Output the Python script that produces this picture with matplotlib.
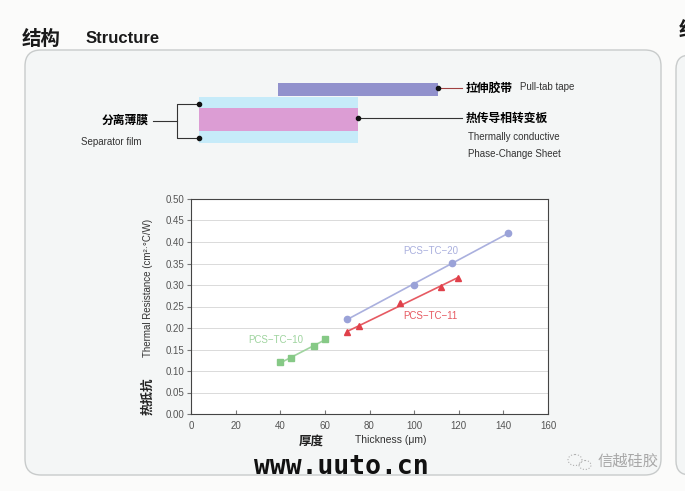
import matplotlib

matplotlib.use("Agg")
import matplotlib.pyplot as plt  # noqa: E402
import numpy as np  # noqa: E402
from matplotlib.patches import FancyBboxPatch, Rectangle, Ellipse  # noqa: E402

plt.rcParams["font.family"] = ["Liberation Sans", "Noto Sans CJK SC", "DejaVu Sans"]
CJK = ["Noto Sans CJK SC", "DejaVu Sans"]

# data
thick_10 = [40, 45, 55, 60]
res_10 = [0.120, 0.131, 0.157, 0.174]
thick_20 = [70, 100, 117, 142]
res_20 = [0.221, 0.300, 0.352, 0.420]
thick_11 = [70, 75.5, 93.5, 112, 119.5]
res_11 = [0.190, 0.205, 0.257, 0.296, 0.316]
x_ticks = [0, 20, 40, 60, 80, 100, 120, 140, 160]
y_ticks = [0.00, 0.05, 0.10, 0.15, 0.20, 0.25, 0.30, 0.35, 0.40, 0.45, 0.50]

series = [
    ("PCS\u2212TC\u221210", thick_10, res_10, "s", "#86c986", "#9fd49f", (38, 0.173)),
    ("PCS\u2212TC\u221220", thick_20, res_20, "o", "#9aa2d8", "#aab0de", (107.5, 0.379)),
    ("PCS\u2212TC\u221211", thick_11, res_11, "^", "#e0404a", "#e65a62", (107.5, 0.228)),
]

fig = plt.figure(figsize=(6.85, 4.91), dpi=100)
fig.patch.set_facecolor("#fbfbfa")

# page layer in pixel coordinates
bg = fig.add_axes([0, 0, 1, 1])
bg.set_xlim(0, 685)
bg.set_ylim(491, 0)
bg.axis("off")

bg.add_patch(FancyBboxPatch((25, 50), 636, 425, boxstyle="round,pad=0,rounding_size=16",
                            fc="#f4f6f6", ec="#c8cbcb", lw=1.0))
bg.add_patch(FancyBboxPatch((676, 55), 60, 420, boxstyle="round,pad=0,rounding_size=14",
                            fc="#f4f6f6", ec="#c8cbcb", lw=1.0))
bg.text(22, 39, "结构", family=CJK, fontsize=14, fontweight="bold", va="center", color="#1a1a1a")
bg.text(86, 38, "Structure", fontsize=12, fontweight="bold", va="center", color="#1a1a1a")
bg.text(679, 30, "结", family=CJK, fontsize=14, fontweight="bold", va="center", color="#1a1a1a",
        clip_on=True)

# structure diagram
bg.add_patch(Rectangle((278, 83), 160, 13, fc="#9191cc", ec="none"))
bg.add_patch(Rectangle((199, 97), 159, 46, fc="#c6ebf9", ec="none"))
bg.add_patch(Rectangle((199, 108), 159, 23, fc="#dc9dd4", ec="none"))
bg.plot([199, 177, 177, 199], [104, 104, 138, 138], color="#333", lw=0.8)
bg.plot([153, 177], [121, 121], color="#333", lw=0.8)
bg.plot([358, 462], [118, 118], color="#333", lw=0.8)
bg.plot([438, 462], [88, 88], color="#a04040", lw=0.8)
bg.plot([199, 199, 358, 438], [104, 138, 118, 88], "o", color="#111", ms=3)
bg.text(149, 120, "分离薄膜", family=CJK, fontsize=8.5, fontweight="bold", ha="right", va="center")
bg.text(81, 142, "Separator film", fontsize=7, va="center", color="#333")
bg.text(466, 88, "拉伸胶带", family=CJK, fontsize=8.5, fontweight="bold", va="center")
bg.text(520, 87, "Pull-tab tape", fontsize=7, va="center", color="#333")
bg.text(466, 118, "热传导相转变板", family=CJK, fontsize=8.5, fontweight="bold", va="center")
bg.text(468, 137, "Thermally conductive", fontsize=7, va="center", color="#333")
bg.text(468, 154, "Phase-Change Sheet", fontsize=7, va="center", color="#333")

# axis titles
bg.text(148, 288, "Thermal Resistance (cm\u00b2\u00b7\u00b0C/W)", fontsize=7, rotation=90,
        ha="center", va="center", color="#333")
bg.text(148, 396, "热抵抗", family=CJK, fontsize=9, fontweight="bold", rotation=90,
        ha="center", va="center", color="#222")
bg.text(311, 441, "厚度", family=CJK, fontsize=9, fontweight="bold", ha="center", va="center",
        color="#222")
bg.text(355, 440, "Thickness (\u03bcm)", fontsize=7.5, va="center", color="#333")

# watermarks
bg.text(341, 467, "www.uuto.cn", family="DejaVu Sans Mono", fontsize=19, fontweight="bold",
        ha="center", va="center", color="#111")
bg.add_patch(Ellipse((575, 460), 14, 11, fc="none", ec="#b0b0b0", lw=0.8, ls=":"))
bg.add_patch(Ellipse((585, 465), 12, 9, fc="none", ec="#b0b0b0", lw=0.8, ls=":"))
bg.text(598, 461, "信越硅胶", family=CJK, fontsize=11, va="center", color="#a8a8a8")

# chart
ax = fig.add_axes([191 / 685, 1 - 414 / 491, 357 / 685, 215 / 491])
ax.set_facecolor("#ffffff")
for name, xs, ys, mk, c, lc, (lx, ly) in series:
    k, b = np.polyfit(xs, ys, 1)
    xe = np.array([min(xs), max(xs)])
    ax.plot(xe, k * xe + b, color=lc, lw=1.2, zorder=2)
    ax.plot(xs, ys, mk, color=c, ms=4.5, zorder=3)
    ax.text(lx, ly, name, fontsize=7, color=lc, ha="center", va="center")

ax.set_xlim(0, 160)
ax.set_ylim(0, 0.5)
ax.set_xticks(x_ticks)
ax.set_yticks(y_ticks)
ax.set_yticklabels([f"{v:.2f}" for v in y_ticks])
ax.tick_params(axis="x", direction="in", length=3, labelsize=7, labelcolor="#555", color="#777", pad=5)
ax.tick_params(axis="y", direction="out", length=3, labelsize=7, labelcolor="#555", color="#777", pad=2)
ax.grid(axis="y", color="#d4d4d4", lw=0.6)
ax.set_axisbelow(True)
for s in ax.spines.values():
    s.set_color("#444")
    s.set_linewidth(0.8)

fig.savefig("out.png", dpi=100, facecolor=fig.get_facecolor())
